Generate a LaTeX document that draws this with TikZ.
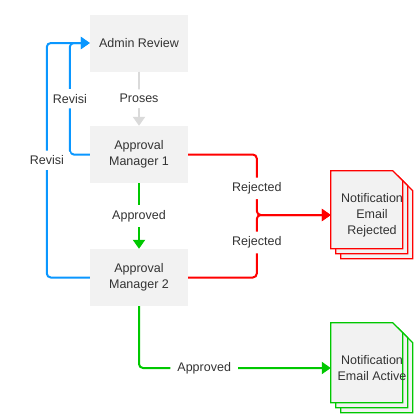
\documentclass[tikz,border=0pt]{standalone}
\usepackage{fontspec}
\setmainfont{Liberation Sans}
\usetikzlibrary{arrows.meta, calc, backgrounds}

\definecolor{boxgray}{HTML}{F2F2F2}
\definecolor{txtgray}{HTML}{333333}
\definecolor{revblue}{HTML}{0A97FF}
\definecolor{okgreen}{HTML}{00C800}
\definecolor{rejred}{HTML}{FF0000}
\definecolor{procgray}{HTML}{DADADA}

\tikzset{
  task/.style = {fill=boxgray, minimum width=98pt, minimum height=57pt,
                 align=center, text=txtgray},
  doc/.style  = {minimum width=82pt, inner sep=0pt, align=center, text=txtgray},
  sheet/.style = {line width=1.2pt, fill=boxgray},
  flow/.style = {line width=2pt, rounded corners=4pt,
                 -{Triangle[length=9pt,width=12pt]}},
  lbl/.style  = {fill=white, text=txtgray, inner xsep=7pt, inner ysep=5pt}
}

\begin{document}
\begin{tikzpicture}[x=1pt, y=-1pt, font=\fontsize{12.5}{16}\selectfont]
  \useasboundingbox (0,0) rectangle (414,413);

  % process boxes
  \node[task] (admin) at (139,43)    {Admin Review};
  \node[task] (mgr1)  at (139,154.5) {Approval\\Manager 1};
  \node[task] (mgr2)  at (139,277.5) {Approval\\Manager 2};

  % notification documents
  \node[doc, minimum height=88pt] (rej) at (372,215) {Notification\\Email\\Rejected};
  \node[doc, minimum height=90pt] (act) at (372,368) {Notification\\Email Active};

  \begin{scope}[on background layer]
    \foreach \d in {10,5,0}
      \draw[sheet, draw=rejred] ($(rej.north west)+(\d,\d)$)
        -- ++(62,0) -- ++(10,10) -- ++(0,68) -- ++(-72,0) -- cycle;
    \foreach \d in {10,5,0}
      \draw[sheet, draw=okgreen] ($(act.north west)+(\d,\d)$)
        -- ++(62,0) -- ++(10,10) -- ++(0,70) -- ++(-72,0) -- cycle;
  \end{scope}

  % connectors
  \draw[flow, procgray] (admin) -- node[lbl] {Proses} (mgr1);
  \draw[flow, okgreen]  (mgr1) -- node[lbl] {Approved} (mgr2);
  \draw[flow, revblue]  (mgr1.west) -| node[lbl, pos=0.75] {Revisi}
                        ($(admin.west)+(-20,0)$) -- (admin.west);
  \draw[flow, revblue]  (mgr2.west) -| node[lbl, pos=0.75] {Revisi}
                        ($(admin.west)+(-43,0)$) -- (admin.west);
  \draw[flow, rejred]   (mgr1.east) -| node[lbl, pos=0.78] {Rejected}
                        ($(rej.west)+(-74,0)$) -- (rej.west);
  \draw[flow, rejred]   (mgr2.east) -| node[lbl, pos=0.78] {Rejected}
                        ($(rej.west)+(-74,0)$) -- (rej.west);
  \draw[flow, okgreen]  (mgr2.south) |- node[lbl, pos=0.67] {Approved} (act.west);
\end{tikzpicture}
\end{document}
